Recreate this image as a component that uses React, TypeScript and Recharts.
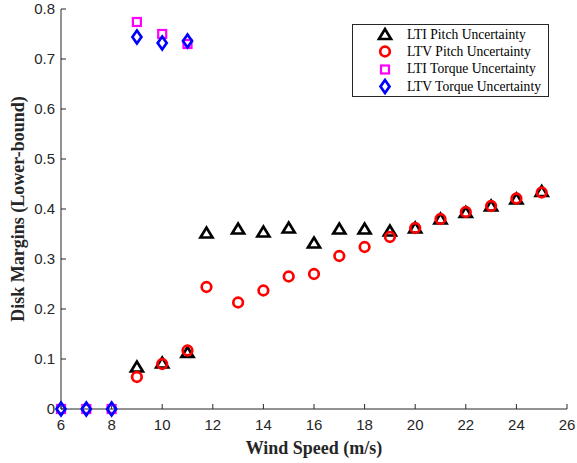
import React from 'react';
import { ScatterChart, Scatter, XAxis, YAxis, Legend } from 'recharts';

// wind speed (m/s) and lower-bound disk margins
const windTorque = [6, 7, 8, 9, 10, 11];
const ltiTorque = [0, 0, 0, 0.774, 0.75, 0.73];
const ltvTorque = [0, 0, 0, 0.744, 0.732, 0.736];

const windPitch = [9, 10, 11, 11.75, 13, 14, 15, 16, 17, 18, 19, 20, 21, 22, 23, 24, 25];
const ltiPitch = [0.084, 0.092, 0.113, 0.352, 0.36, 0.354, 0.362, 0.332, 0.36, 0.36, 0.356, 0.362, 0.38, 0.393, 0.406, 0.42, 0.435];
const ltvPitch = [0.064, 0.09, 0.117, 0.244, 0.213, 0.237, 0.265, 0.27, 0.306, 0.324, 0.344, 0.362, 0.38, 0.394, 0.406, 0.421, 0.433];

const xTicks = [6, 8, 10, 12, 14, 16, 18, 20, 22, 24, 26];
const yTicks = [0, 0.1, 0.2, 0.3, 0.4, 0.5, 0.6, 0.7, 0.8];

const AXIS = '#262626';
const SANS = '"Liberation Sans", Arial, sans-serif';
const SERIF = '"Liberation Serif", "Times New Roman", serif';

const toPoints = (xs: number[], ys: number[]) => xs.map((x, i) => ({ x, y: ys[i] }));

type MarkerFn = (cx: number, cy: number) => React.ReactElement;

const triangle: MarkerFn = (cx, cy) => (
  <path d={`M${cx - 6},${cy + 4.5} L${cx + 6},${cy + 4.5} L${cx},${cy - 5.5} Z`} fill="none" stroke="#000" strokeWidth={2.7} strokeLinejoin="miter" />
);
const circle: MarkerFn = (cx, cy) => <circle cx={cx} cy={cy} r={4.8} fill="none" stroke="#ff0000" strokeWidth={2.7} />;
const square: MarkerFn = (cx, cy) => <rect x={cx - 4} y={cy - 4} width={8} height={8} fill="none" stroke="#ff00ff" strokeWidth={2.2} />;
const diamond: MarkerFn = (cx, cy) => (
  <path d={`M${cx},${cy - 6.5} L${cx + 4.5},${cy} L${cx},${cy + 6.5} L${cx - 4.5},${cy} Z`} fill="none" stroke="#0000ff" strokeWidth={2.7} />
);

const series = [
  { name: 'LTI Pitch Uncertainty', data: toPoints(windPitch, ltiPitch), marker: triangle },
  { name: 'LTV Pitch Uncertainty', data: toPoints(windPitch, ltvPitch), marker: circle },
  { name: 'LTI Torque Uncertainty', data: toPoints(windTorque, ltiTorque), marker: square },
  { name: 'LTV Torque Uncertainty', data: toPoints(windTorque, ltvTorque), marker: diamond },
];

const LegendBox = () => (
  <div
    style={{
      border: `1px solid ${AXIS}`,
      background: '#fff',
      width: 197,
      height: 73,
      boxSizing: 'border-box',
      paddingTop: 1,
      fontFamily: SERIF,
      fontSize: 13.6,
      color: '#000',
    }}
  >
    {series.map((s) => (
      <div key={s.name} style={{ display: 'flex', alignItems: 'center', height: 17.3 }}>
        <svg width={54} height={17} style={{ flex: 'none' }}>
          {s.marker(32, 8.5)}
        </svg>
        <span style={{ whiteSpace: 'nowrap' }}>{s.name}</span>
      </div>
    ))}
  </div>
);

const tickStyle = { fill: AXIS, fontSize: 15, fontFamily: SANS };
const blank = () => '';

const YTitle = (props: any) => {
  const vb = props.viewBox || { x: 0, y: 0, height: 0 };
  const cx = vb.x + 18;
  const cy = vb.y + vb.height / 2;
  return (
    <text
      x={cx}
      y={cy}
      transform={`rotate(-90 ${cx} ${cy})`}
      textAnchor="middle"
      dominantBaseline="central"
      fill={AXIS}
      fontFamily={SERIF}
      fontWeight="bold"
      fontSize={18}
    >
      Disk Margins (Lower-bound)
    </text>
  );
};

export default function App() {
  return (
    <div style={{ position: 'absolute', left: 0, top: 0, background: '#fff' }}>
      <ScatterChart width={577} height={463} margin={{ top: 9, right: 10, bottom: 0, left: 0 }}>
        <XAxis
          type="number"
          dataKey="x"
          domain={[6, 26]}
          ticks={xTicks}
          interval={0}
          height={54}
          stroke={AXIS}
          tickSize={-5}
          tickMargin={15}
          tick={tickStyle}
          label={{
            value: 'Wind Speed (m/s)',
            position: 'insideBottom',
            offset: 9,
            fill: AXIS,
            fontFamily: SERIF,
            fontWeight: 'bold',
            fontSize: 18,
          }}
        />
        <XAxis
          xAxisId="top"
          orientation="top"
          type="number"
          domain={[6, 26]}
          ticks={xTicks}
          interval={0}
          height={0}
          stroke={AXIS}
          tickSize={-5}
          tickFormatter={blank}
        />
        <YAxis
          type="number"
          dataKey="y"
          domain={[0, 0.8]}
          ticks={yTicks}
          interval={0}
          width={61}
          stroke={AXIS}
          tickSize={-5}
          tickMargin={11}
          tick={tickStyle}
          tickFormatter={(v: number) => String(Number(v.toFixed(1)))}
          label={{ content: YTitle }}
        />
        <YAxis
          yAxisId="right"
          orientation="right"
          type="number"
          domain={[0, 0.8]}
          ticks={yTicks}
          interval={0}
          width={0}
          stroke={AXIS}
          tickSize={-5}
          tickFormatter={blank}
        />
        {series.map((s) => (
          <Scatter
            key={s.name}
            name={s.name}
            data={s.data}
            isAnimationActive={false}
            shape={(p: any) => s.marker(p.cx, p.cy)}
          />
        ))}
        <Legend
          layout="vertical"
          align="center"
          verticalAlign="middle"
          content={LegendBox}
          wrapperStyle={{ left: 352, top: 24, width: 197, height: 73 }}
        />
      </ScatterChart>
    </div>
  );
}
